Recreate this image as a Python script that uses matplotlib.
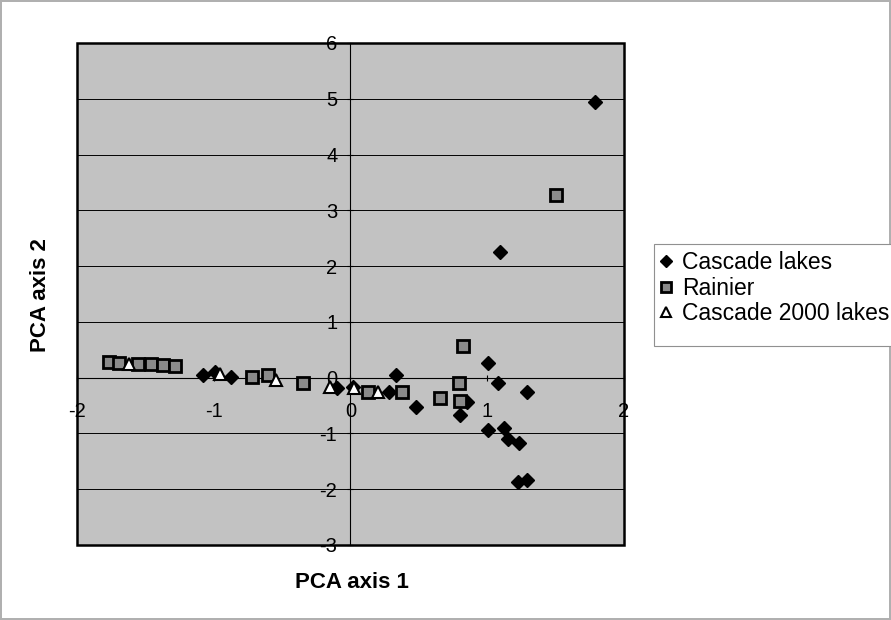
import matplotlib
matplotlib.use("Agg")
import matplotlib.pyplot as plt
from matplotlib.patches import Rectangle

plt.rcParams['font.family'] = ['Liberation Sans', 'DejaVu Sans']
plt.rcParams['axes.unicode_minus'] = False

# Cascade lakes (diamonds)
cascade_x = [-1.08, -0.99, -0.875, -0.097, 0.02, 0.28, 0.33, 0.48, 0.80, 0.85,
             1.005, 1.08, 1.29, 1.005, 1.12, 1.155, 1.23, 1.225, 1.29, 1.093, 1.79]
cascade_y = [0.04, 0.11, 0.01, -0.19, -0.17, -0.25, 0.04, -0.53, -0.67, -0.44,
             0.26, -0.09, -0.25, -0.93, -0.91, -1.10, -1.18, -1.87, -1.83, 2.25, 4.94]

# Rainier (squares)
rainier_x = [-1.764, -1.693, -1.552, -1.459, -1.369, -1.283, -0.722, -0.60, -0.35,
             0.13, 0.375, 0.654, 0.79, 0.80, 0.825, 1.503]
rainier_y = [0.28, 0.27, 0.25, 0.24, 0.22, 0.21, 0.01, 0.05, -0.10,
             -0.25, -0.26, -0.37, -0.09, -0.42, 0.56, 3.27]

# Cascade 2000 lakes (triangles)
c2000_x = [-1.618, -0.954, -0.545, -0.15, 0.025, 0.20]
c2000_y = [0.25, 0.07, -0.05, -0.17, -0.18, -0.25]

xticks = [-2, -1, 0, 1, 2]
yticks = [-3, -2, -1, 0, 1, 2, 3, 4, 5, 6]

W, H = 891, 620
fig = plt.figure(figsize=(8.91, 6.20), dpi=100)
fig.patch.set_edgecolor('#b0b0b0')
fig.patch.set_linewidth(1.5)
ax = fig.add_axes([77/W, 1 - 545/H, (624-77)/W, (545-43)/H])
ax.set_facecolor('#c2c2c2')
ax.patch.set_edgecolor('black')
ax.patch.set_linewidth(1.8)

ax.plot(cascade_x, cascade_y, 'D', color='black', ms=7.5, ls='none',
        label='Cascade lakes', zorder=3)
ax.plot(rainier_x, rainier_y, 's', mfc='#8a8a8a', mec='black', mew=2, ms=8.5,
        ls='none', label='Rainier', zorder=4)
ax.plot(c2000_x, c2000_y, '^', mfc='white', mec='black', mew=1.5, ms=8.5,
        ls='none', label='Cascade 2000 lakes', zorder=5)

ax.set_xlim(-2, 2)
ax.set_ylim(-3, 6)
ax.set_xticks(xticks)
ax.set_yticks(yticks)

for s in ['top', 'right']:
    ax.spines[s].set_visible(False)
ax.spines['left'].set_position(('data', 0))
ax.spines['bottom'].set_position(('data', 0))
ax.spines['left'].set_linewidth(0.8)
ax.spines['bottom'].set_linewidth(0.8)

ax.yaxis.grid(True, color='black', lw=0.7)
ax.set_axisbelow(True)
ax.tick_params(axis='both', direction='inout', length=5, width=0.8, labelsize=14.5)
ax.tick_params(axis='x', pad=15)
ax.tick_params(axis='y', pad=7)

fig.text(352/W, 1 - 583/H, 'PCA axis 1', ha='center', va='center',
         fontsize=16, fontweight='bold')
fig.text(40/W, 1 - 295/H, 'PCA axis 2', ha='center', va='center',
         rotation=90, fontsize=16, fontweight='bold')

# legend box runs past the right edge of the figure, as in the original
fig.patches.append(Rectangle((654/W, 1 - 346/H), 245/W, 102/H,
                             transform=fig.transFigure, facecolor='white',
                             edgecolor='#909090', lw=0.8, zorder=1))
handles, labels = ax.get_legend_handles_labels()
leg = fig.legend(handles, labels, loc='upper left',
                 bbox_to_anchor=(658/W, 1 - 251/H),
                 fontsize=16.5, frameon=False, borderpad=0,
                 handlelength=0.7, handletextpad=0.35, labelspacing=0.12,
                 borderaxespad=0, markerscale=0.85)
leg.set_zorder(2)

fig.savefig('out.png', dpi=100)
